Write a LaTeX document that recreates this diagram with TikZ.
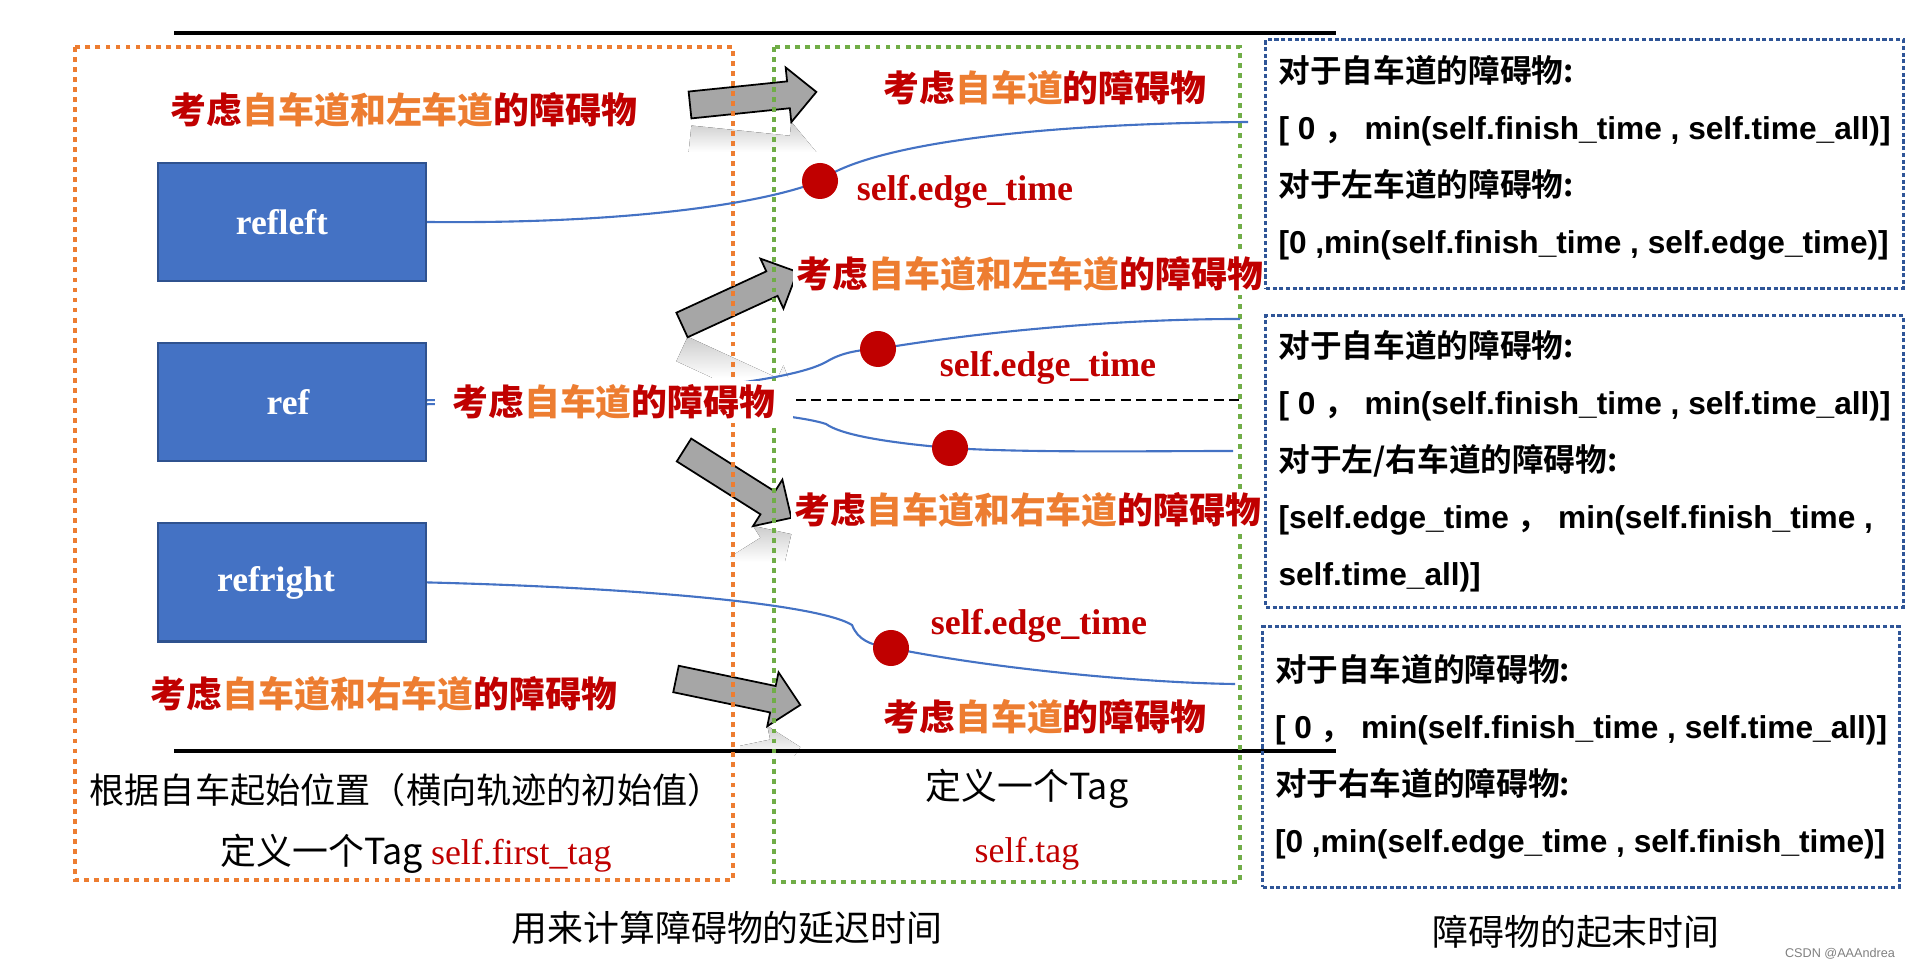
\documentclass[tikz,border=0pt]{standalone}
\usepackage{fontspec}
\usepackage{xcolor}
\usepackage{tikz}
\usetikzlibrary{positioning, calc}

\setmainfont{Liberation Serif}
\newfontfamily\cjk{Noto Sans CJK SC}[BoldFont={Noto Sans CJK SC Bold}]
\newfontfamily\cjkheavy{Noto Sans CJK SC Black}
\newfontfamily\arial{Liberation Sans}

\definecolor{obsred}{HTML}{C00000}
\definecolor{obsorange}{HTML}{ED7D31}
\definecolor{phasegreen}{HTML}{70AD47}
\definecolor{refblue}{HTML}{4472C4}
\definecolor{refborder}{HTML}{2F528F}
\definecolor{spanblue}{HTML}{2F5597}
\definecolor{arrowgray}{HTML}{A6A6A6}

\newcommand{\consider}[1]{\textcolor{obsred}{考虑}\textcolor{obsorange}{#1}\textcolor{obsred}{的障碍物}}
\newcommand{\blockarrow}[3][]{%
  \path[#1, shift={#2}, rotate=#3] (0,-13.5) -- (99,-13.5) -- (99,-27.5) -- (127,0)
    -- (99,27.5) -- (99,13.5) -- (0,13.5) -- cycle;}
\newcommand{\mirror}[3]{% faded copy under a block arrow
  \begin{scope}
    \blockarrow[clip]{#1}{#2}
    \fill[top color=gray!40, bottom color=white] #3;
  \end{scope}}

\begin{document}
\begin{tikzpicture}[ x = 0.01cm, y = -0.01cm
                     , node distance = 0.6cm
                     , every node/.style = { inner sep = 1pt }
                     , refbox/.style = { rectangle, draw = refborder, line width = 0.6pt, fill = refblue
                                       , minimum width = 2.68cm, minimum height = 1.18cm
                                       , text = white, font = \bfseries\fontsize{10.1}{12}\selectfont }
                     , obstitle/.style = { fill = white, font = \cjkheavy\fontsize{10.2}{12}\selectfont }
                     , edgetime/.style = { text = obsred, font = \bfseries\fontsize{10.2}{12}\selectfont }
                     , plaintext/.style = { font = \cjk\fontsize{10.2}{12}\selectfont }
                     , obsdot/.style = { circle, fill = obsred, minimum size = 0.36cm, inner sep = 0pt }
                     , traj/.style = { draw = refblue, line width = 0.6pt }
                     , phasebox/.style = { line width = 1.4pt, dash pattern = on 1.4pt off 1.45pt }
                     , spanbox/.style = { draw = spanblue, line width = 0.85pt
                                        , dash pattern = on 1.2pt off 0.7pt
                                        , align = left, minimum width = 6.37cm
                                        , font = \arial\bfseries\fontsize{9}{16.2}\selectfont }
                     , blockstyle/.style = { draw = black, line width = 0.5pt, fill = arrowgray }
                     ]

  \useasboundingbox (0,0) rectangle (1910,968);

  % reflections
  \mirror{(690,139)}{-5.9}{(660,122) rectangle (840,152)}
  \mirror{(682,349)}{-24.7}{(660,337) rectangle (800,378)}
  \mirror{(684,602)}{32.3}{(730,526) rectangle (820,562)}
  \mirror{(676,773)}{11.8}{(740,726) rectangle (830,756)}

  \blockarrow[blockstyle]{(690,105)}{5.9}
  \blockarrow[blockstyle]{(682,325)}{24.7}
  \blockarrow[blockstyle]{(684,450)}{-32.3}
  \blockarrow[blockstyle]{(676,679)}{-11.8}

  \draw[line width = 0.9pt] (174,33) -- (1336,33);
  \draw[line width = 0.9pt] (174,751) -- (1336,751);

  \draw[phasebox, obsorange] (75,47) rectangle (733,880);
  \draw[phasebox, phasegreen] (774,47) rectangle (1240,882);

  \node (refleft) [refbox] at (292,222) {refleft\hspace*{0.2cm}};
  \node (ref) [refbox, below = of refleft] {ref\hspace*{0.08cm}};
  \node (refright) [refbox, below = of ref] {refright\hspace*{0.32cm}};

  \coordinate (d1) at (820,181);
  \coordinate (d2) at (878,349);
  \coordinate (d3) at (950,448);
  \coordinate (d4) at (891,648);
  \coordinate (e1) at (1248,122);
  \coordinate (e2) at (1240,319);
  \coordinate (e3) at (1233,451);
  \coordinate (e4) at (1235,684);

  % trajectories
  \draw[traj] (refleft.east) .. controls (620,224) and (760,205) .. (d1)
                             .. controls (860,150) and (1000,124) .. (e1);
  \draw[traj] ($(ref.east)+(0,-2)$) .. controls (650,398) and (790,382) .. (826,362)
                                    .. controls (836,356) and (850,350) .. (d2)
                                    .. controls (960,335) and (1100,319) .. (e2);
  \draw[traj] ($(ref.east)+(0,2)$) .. controls (650,402) and (790,412) .. (826,424)
                                   .. controls (840,434) and (880,442) .. (d3)
                                   .. controls (1030,453) and (1150,451) .. (e3);
  \draw[traj] (refright.east) .. controls (650,588) and (820,605) .. (852,625)
                              .. controls (858,640) and (870,645) .. (d4)
                              .. controls (1000,670) and (1150,683) .. (e4);
  \draw[line width = 0.5pt, dash pattern = on 2.8pt off 1.6pt] (796,400) -- (1240,400);

  \node (lefttop) [obstitle] at (404,110) {\consider{自车道和左车道}};
  \node (refobs) [obstitle, inner xsep = 5pt, right = 0.07cm of ref] {\consider{自车道}};
  \node (leftbottom) [obstitle] at (384,694) {\consider{自车道和右车道}};
  \node (midtop) [obstitle] at (1045,88) {\consider{自车道}};
  \node (midleft) [obstitle] at (1030,274) {\consider{自车道和左车道}};
  \node (midright) [obstitle] at (1028,510) {\consider{自车道和右车道}};
  \node (midbottom) [obstitle] at (1045,717) {\consider{自车道}};

  \node (dot1) [obsdot] at (d1) {};
  \node (dot2) [obsdot] at (d2) {};
  \node (dot3) [obsdot] at (d3) {};
  \node (dot4) [obsdot] at (d4) {};

  \node (edge1) [edgetime] at (965,192) {self.edge\_time};
  \node (edge2) [edgetime] at (1048,368) {self.edge\_time};
  \node (edge3) [edgetime] at (1039,626) {self.edge\_time};

  \node (startpos) [font = \cjk\fontsize{10}{12}\selectfont] at (406,790)
    {根据自车起始位置（横向轨迹的初始值）};
  \node (firsttag) [plaintext] at (416,854) {定义一个Tag \textcolor{obsred}{\rmfamily self.first\_tag}};
  \node (tagdef) [plaintext] at (1027,789) {定义一个Tag};
  \node (selftag) [text = obsred, font = \fontsize{10.2}{12}\selectfont] at (1027,854) {self.tag};

  \node (span1) [spanbox, minimum height = 2.48cm] at (1584.5,164)
    {{\cjk 对于自车道的障碍物:}\\
     {[} 0 {\cjk ，} min(self.finish\_time , self.time\_all)]\\
     {\cjk 对于左车道的障碍物:}\\
     {[}0 ,min(self.finish\_time , self.edge\_time)]\rule[-0.2cm]{0pt}{0pt}};
  \node (span2) [spanbox, minimum height = 2.91cm] at (1584.5,461.5)
    {{\cjk 对于自车道的障碍物:}\\
     {[} 0 {\cjk ，} min(self.finish\_time , self.time\_all)]\\
     {\cjk 对于左/右车道的障碍物:}\\
     {[}self.edge\_time {\cjk ，} min(self.finish\_time ,\\
     self.time\_all)]};
  \node (span3) [spanbox, minimum height = 2.6cm, minimum width = 6.36cm] at (1581,757)
    {{\cjk 对于自车道的障碍物:}\\
     {[} 0 {\cjk ，} min(self.finish\_time , self.time\_all)]\\
     {\cjk 对于右车道的障碍物:}\\
     {[}0 ,min(self.edge\_time , self.finish\_time)]};

  \node (delaycap) [plaintext] at (727,928) {用来计算障碍物的延迟时间};
  \node (spancap) [plaintext] at (1576,932) {障碍物的起末时间};
  \node (mark) [text = gray, font = \arial\fontsize{3.6}{4}\selectfont] at (1840,954) {CSDN @AAAndrea};

\end{tikzpicture}
\end{document}
